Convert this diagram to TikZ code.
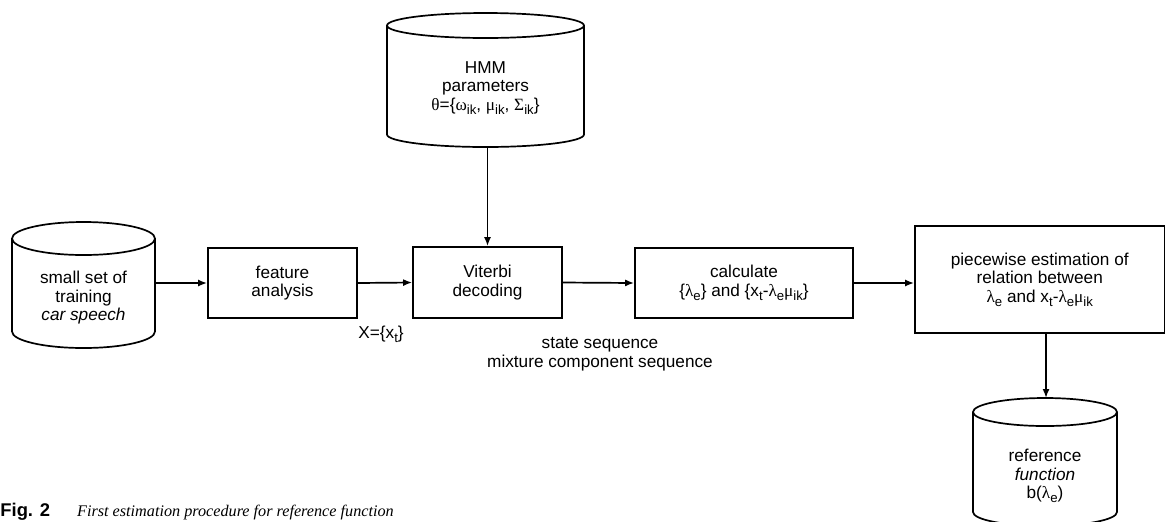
\documentclass[tikz,border=0pt]{standalone}
\usepackage{fontspec}
\setmainfont{Liberation Sans}
\newfontfamily\grk{Liberation Serif}
\newfontfamily\capfont{Liberation Serif}
\usetikzlibrary{arrows.meta,calc}
\newcommand{\gr}[1]{{\grk #1}}
\newcommand{\lsub}[1]{\raisebox{-0.45ex}{\fontsize{6.6}{7}\selectfont #1}}
% x1, x2, cx, ytop-centre, ybottom-centre, rx(pt), ry(pt)
\newcommand{\drawcyl}[7]{%
  \draw[line] (#3,#4) ellipse [x radius=#6pt, y radius=#7pt];
  \draw[line] (#1,#4) -- (#1,#5) arc [start angle=180, end angle=360, x radius=#6pt, y radius=#7pt] -- (#2,#4);
}
\begin{document}
\begin{tikzpicture}[x=0.5pt,y=-0.5pt,
  line/.style={line width=0.85pt},
  every node/.style={font=\fontsize{8.6}{9.25}\selectfont},
  box/.style={draw, line width=0.85pt, align=center, inner sep=0pt},
  cyltext/.style={align=center, inner sep=0pt},
  arr/.style={line width=0.85pt, -{Latex[length=4.5pt,width=3.5pt]}},
  lab/.style={inner sep=0pt}]
\useasboundingbox (0,0) rectangle (1166,521);

% cylinders
\drawcyl{12}{155}{83.5}{238.5}{331.5}{35.75}{8.25}
\drawcyl{387}{584}{485.5}{25.5}{134.5}{49.25}{6.25}
\drawcyl{973}{1117}{1045}{412}{512}{36}{7}

\node[cyltext, minimum width=71.5pt] (cyl1) at (83.5,298) {small set of\\training\\\textit{car speech}};
\node[cyltext] (hmm) at (485.5,88) {HMM\\parameters\\\gr{θ}=\{\gr{ω}\lsub{ik}, \gr{μ}\lsub{ik}, \gr{Σ}\lsub{ik}\}};
\node[cyltext] (ref) at (1045,476) {reference\\\textit{function}\\b(\gr{λ}\lsub{e})};
\coordinate (hmmbot) at (487.5,147);
\coordinate (reftop) at (1046,398);

% boxes
\node[box, minimum width=74.5pt, minimum height=35pt] (feat) at (282.5,283) {feature\\analysis};
\node[box, minimum width=74.5pt, minimum height=35.5pt] (vit) at (487.5,282.5) {Viterbi\\decoding};
\node[box, minimum width=109pt, minimum height=35pt] (calc) at (744,283) {calculate\\\{\gr{λ}\lsub{e}\} and \{x\lsub{t}-\gr{λ}\lsub{e}\gr{μ}\lsub{ik}\}};
\node[box, minimum width=124.75pt, minimum height=53.5pt] (piece) at (1039.75,279.5) {piecewise estimation of\\relation between\\\gr{λ}\lsub{e} and x\lsub{t}-\gr{λ}\lsub{e}\gr{μ}\lsub{ik}};

% connectors
\draw[arr] (cyl1.east |- feat.west) -- (feat.west);
\draw[arr] (feat.east) -- (vit.west);
\draw[arr] (hmmbot) -- (vit.north);
\draw[arr] (vit.east) -- (calc.west);
\draw[arr] (calc.east) -- (calc.east -| piece.west);
\draw[arr] (reftop |- piece.south) -- (reftop);

% labels
\node[lab, anchor=base west] (xlab) at (358,338) {X=\{x\lsub{t}\}};
\node[lab, align=center] (seq) at (600,354) {state sequence\\mixture component sequence};

% caption
\node[lab, anchor=base west] (cap) at (0,516) {\fontsize{9.2}{11}\selectfont\bfseries Fig. 2\hspace*{13.5pt}\capfont\mdseries\itshape\fontsize{8.1}{9}\selectfont First estimation procedure for reference function};
\end{tikzpicture}
\end{document}
